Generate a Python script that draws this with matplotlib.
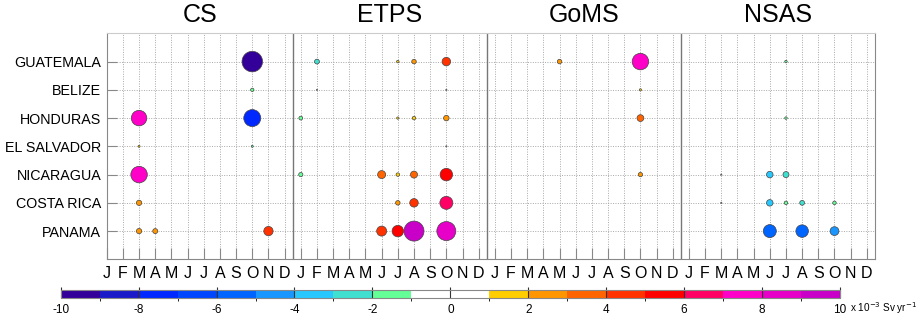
import numpy as np
import matplotlib
matplotlib.use("Agg")
import matplotlib.pyplot as plt
from matplotlib.colors import ListedColormap, BoundaryNorm

plt.rcParams['font.family'] = ['Liberation Sans', 'DejaVu Sans']
plt.rcParams['axes.unicode_minus'] = False

regions = ["CS", "ETPS", "GoMS", "NSAS"]
countries = ["GUATEMALA", "BELIZE", "HONDURAS", "EL SALVADOR",
             "NICARAGUA", "COSTA RICA", "PANAMA"]
month_labels = ["J", "F", "M", "A", "M", "J", "J", "A", "S", "O", "N", "D"]

# per region: country, month (1-12), value (x 10^-3 Sv/yr), amplitude (bubble scale)
cs_country = ["GUATEMALA", "BELIZE", "HONDURAS", "HONDURAS", "EL SALVADOR", "EL SALVADOR",
              "NICARAGUA", "COSTA RICA", "PANAMA", "PANAMA", "PANAMA"]
cs_month = [10, 10, 3, 10, 3, 10, 3, 3, 3, 4, 11]
cs_value = [-9.5, -1.5, 7.5, -7.5, 1.5, -1.5, 7.5, 2.5, 2.5, 2.5, 4.5]
cs_amp = [20.5, 3.3, 15.5, 17.0, 2.0, 2.0, 16.5, 5.3, 5.3, 5.0, 9.3]

etps_country = ["GUATEMALA", "GUATEMALA", "GUATEMALA", "GUATEMALA",
                "BELIZE", "BELIZE",
                "HONDURAS", "HONDURAS", "HONDURAS", "HONDURAS",
                "EL SALVADOR",
                "NICARAGUA", "NICARAGUA", "NICARAGUA", "NICARAGUA", "NICARAGUA",
                "COSTA RICA", "COSTA RICA", "COSTA RICA",
                "PANAMA", "PANAMA", "PANAMA", "PANAMA"]
etps_month = [2, 7, 8, 10,
              2, 10,
              1, 7, 8, 10,
              10,
              1, 6, 7, 8, 10,
              7, 8, 10,
              6, 7, 8, 10]
etps_value = [-2.5, 1.5, 2.5, 4.5,
              0.3, 0.3,
              -1.5, 1.5, 1.5, 2.5,
              0.3,
              -1.5, 3.5, 1.5, 3.5, 5.5,
              2.5, 4.5, 6.5,
              4.5, 5.5, 9.5, 8.5]
etps_amp = [4.8, 2.5, 4.5, 8.5,
            1.2, 1.2,
            3.8, 2.3, 3.5, 5.5,
            1.2,
            4.2, 8.0, 3.5, 7.0, 12.5,
            4.5, 8.5, 13.0,
            10.0, 11.5, 20.0, 19.0]

goms_country = ["GUATEMALA", "GUATEMALA", "BELIZE", "HONDURAS", "NICARAGUA"]
goms_month = [5, 10, 10, 10, 10]
goms_value = [2.5, 7.5, 1.5, 3.5, 2.5]
goms_amp = [4.5, 16.5, 2.2, 6.8, 4.3]

nsas_country = ["GUATEMALA", "HONDURAS",
                "NICARAGUA", "NICARAGUA", "NICARAGUA",
                "COSTA RICA", "COSTA RICA", "COSTA RICA", "COSTA RICA", "COSTA RICA",
                "PANAMA", "PANAMA", "PANAMA"]
nsas_month = [7, 7,
              3, 6, 7,
              3, 6, 7, 8, 10,
              6, 8, 10]
nsas_value = [-1.5, -1.5,
              0.3, -3.5, -2.5,
              0.3, -3.5, -1.5, -2.5, -1.5,
              -5.5, -5.5, -4.5]
nsas_amp = [2.5, 2.5,
            1.2, 6.5, 6.0,
            1.2, 6.5, 3.5, 4.8, 3.5,
            13.0, 12.5, 8.8]

cbar_colors = ["#330099", "#1a1ac8", "#0028ff", "#0046ff", "#0064ff",
               "#1996ff", "#28c8ff", "#40e0d0", "#64ff96", "#ffffff",
               "#ffffff", "#ffcd00", "#ff9600", "#ff6400", "#ff3200",
               "#ff0000", "#ff0064", "#ff00c8", "#e600c8", "#c800c8"]
levels = np.arange(-10, 11, 1)

cmap = ListedColormap(cbar_colors)
norm = BoundaryNorm(levels, cmap.N)

data = [
    (cs_country, cs_month, cs_value, cs_amp),
    (etps_country, etps_month, etps_value, etps_amp),
    (goms_country, goms_month, goms_value, goms_amp),
    (nsas_country, nsas_month, nsas_value, nsas_amp),
]

fig = plt.figure(figsize=(9.2, 3.19), dpi=100)
ax = fig.add_axes([0.116, 0.187, 0.835, 0.7085])

row = {c: i + 1 for i, c in enumerate(countries)}
for k, (cty, mon, val, amp) in enumerate(data):
    x = np.array(mon) + 12 * k
    y = [row[c] for c in cty]
    s = (np.array(amp) * 0.72) ** 2
    ax.scatter(x, y, s=s, c=val, cmap=cmap, norm=norm,
               edgecolors="#444444", linewidths=0.5, zorder=3)

ax.set_xlim(1, 48.5)
ax.set_ylim(8, 0)
ax.set_xticks(np.arange(1, 49))
ax.set_xticklabels(month_labels * 4, fontsize=11.5)
ax.set_yticks(np.arange(1, 8))
ax.set_yticklabels(countries, fontsize=10.3)
ax.tick_params(axis="x", direction="in", length=8, width=0.8, color="#888888", pad=5)
ax.tick_params(axis="y", direction="in", length=7, width=0.8, color="#888888", pad=4)
ax.grid(True, linestyle=(0, (1, 1.5)), color="#a8a8a8", linewidth=0.7)
ax.set_axisbelow(True)
for side in ["left", "bottom", "right"]:
    ax.spines[side].set_color("#888888")
ax.spines["top"].set_color("#cccccc")

for b in [12.5, 24.5, 36.5]:
    ax.axvline(b, color="#777777", linewidth=1.0, zorder=2)

for k, name in enumerate(regions):
    lo = max(1, 0.5 + 12 * k)
    hi = 12.5 + 12 * k
    ax.text((lo + hi) / 2, -0.22, name, ha="center", va="bottom", fontsize=18)

cax = fig.add_axes([0.066, 0.0658, 0.847, 0.025])
sm = plt.cm.ScalarMappable(cmap=cmap, norm=norm)
cb = fig.colorbar(sm, cax=cax, orientation="horizontal", ticks=np.arange(-10, 11, 2))
cb.ax.tick_params(direction="in", length=8, width=0.8, color="#333333", labelsize=8.5, pad=4)
cb.outline.set_edgecolor("#888888")
cb.outline.set_linewidth(0.8)
fig.text(0.924, 0.022, "x 10$^{-3}$ Sv yr$^{-1}$", fontsize=7.2, ha="left", va="baseline")

fig.savefig("out.png", dpi=100)
